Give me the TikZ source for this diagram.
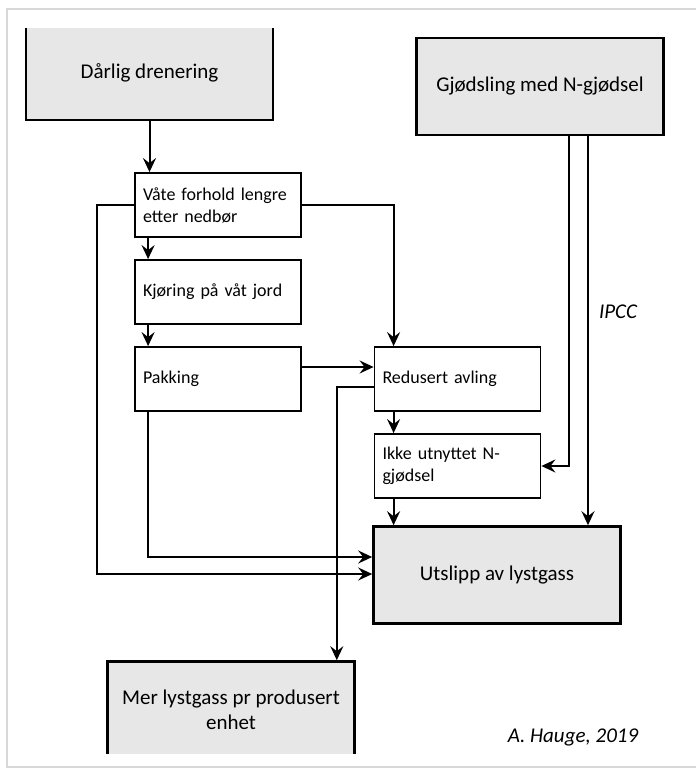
\documentclass[tikz,border=0pt]{standalone}
\usepackage{fontspec}
\setmainfont{Carlito}
\usetikzlibrary{arrows.meta}
\definecolor{boxgray}{HTML}{E7E7E7}
\definecolor{framegray}{HTML}{D8D8D8}
\begin{document}
\begin{tikzpicture}[x=1pt,y=-1pt,
  bigbox/.style={draw=black,line width=2.6pt,fill=boxgray,minimum width=247pt,minimum height=97pt,
    align=center,font=\fontsize{21}{25}\selectfont},
  smallbox/.style={draw=black,line width=1.8pt,fill=white,text width=150pt,inner xsep=8pt,
    minimum height=64pt,align=left,font=\fontsize{18}{22}\selectfont},
  conn/.style={line width=2pt,-{Stealth[length=14pt,width=13pt,inset=5pt]}},
  sign/.style={inner sep=0pt,font=\fontsize{21}{25}\selectfont\itshape}]
\useasboundingbox (0,0) rectangle (696,769);
\draw[framegray,line width=1.5pt] (696,9) -- (7,9) -- (7,767) -- (696,767);

\begin{scope}
\clip (0,28) rectangle (696,753);
\node[bigbox,minimum height=94pt] (dd) at (149.5,73)  {Dårlig drenering};
\node[bigbox]                     (gj) at (540,86.5)  {Gjødsling med N-gjødsel};
\node[smallbox] (vf) at (218,205)   {Våte forhold lengre\\etter nedbør};
\node[smallbox] (kj) at (218,292)   {Kjøring på våt jord};
\node[smallbox] (pk) at (218,379)   {Pakking};
\node[smallbox] (ra) at (457.5,379) {Redusert avling};
\node[smallbox] (ik) at (457.5,466) {Ikke utnyttet N-\\gjødsel};
\node[bigbox]   (ut) at (497,575)   {Utslipp av lystgass};
\node[bigbox]   (ml) at (231,710)   {Mer lystgass pr produsert\\enhet};

\draw[conn] (dd.south) -- (dd.south |- vf.north);
\draw[conn] ([xshift=14pt]vf.south west) -- ([xshift=14pt]kj.north west);
\draw[conn] ([xshift=14pt]kj.south west) -- ([xshift=14pt]pk.north west);
\draw[conn] (vf.east) -| ([xshift=20pt]ra.north west);
\draw[conn] (vf.west) -- ++(-37,0) |- ([yshift=1pt]ut.west);
\draw[conn] ([xshift=14pt]pk.south west) |- ([yshift=18pt]ut.west);
\draw[conn] ([yshift=12pt]pk.east) -- ([yshift=12pt]ra.west);
\draw[conn] ([yshift=-8pt]ra.west) -| ([xshift=-19pt]ml.north east);
\draw[conn] ([xshift=20pt]ra.south west) -- ([xshift=20pt]ik.north west);
\draw[conn] ([xshift=20pt]ik.south west) -- ([xshift=20pt]ik.south west |- ut.north);
\draw[conn] ([xshift=29pt]gj.south) |- (ik.east);
\draw[conn] ([xshift=48pt]gj.south) -- node[sign,pos=.45,right=10pt] {IPCC}
  ([xshift=48pt]gj.south |- ut.north);
\end{scope}

\node[sign] (au) at (573,737) {A. Hauge, 2019};
\end{tikzpicture}
\end{document}
